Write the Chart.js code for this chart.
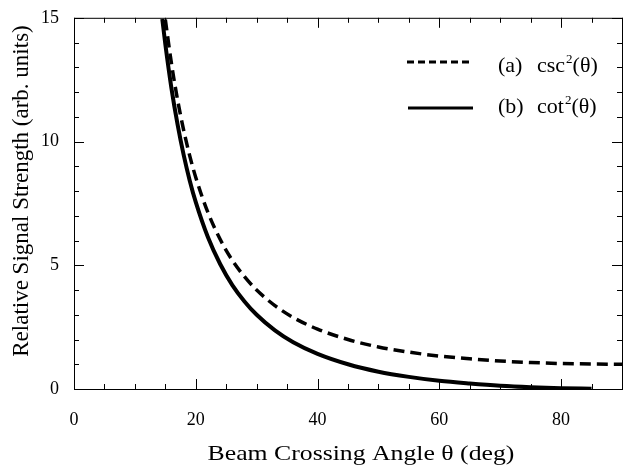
<!DOCTYPE html>
<html>
<head>
<meta charset="utf-8">
<script src="https://cdn.jsdelivr.net/npm/chart.js@4"></script>
<style>
  html, body { margin: 0; padding: 0; background: #fff; }
  #wrap { width: 628px; height: 467px; }
</style>
</head>
<body>
<div id="wrap"><canvas id="chart"></canvas></div>
<script>
// angles (deg) and values
var angleCsc = [15, 16, 17, 18, 19, 20, 22, 24, 26, 28, 30, 33, 36, 40, 45, 50, 55, 60, 65, 70, 75, 80, 85, 90];
var cscVals  = [14.93, 13.16, 11.70, 10.47, 9.43, 8.55, 7.13, 6.05, 5.20, 4.54, 4.00, 3.37, 2.89, 2.42, 2.00, 1.70, 1.49, 1.33, 1.22, 1.13, 1.07, 1.03, 1.01, 1.00];
var angleCot = [14.5, 15, 16, 17, 18, 19, 20, 22, 24, 26, 28, 30, 33, 36, 40, 45, 50, 55, 60, 65, 70, 75, 80, 85];
var cotVals  = [14.95, 13.93, 12.16, 10.70, 9.47, 8.43, 7.55, 6.13, 5.05, 4.20, 3.54, 3.00, 2.37, 1.89, 1.42, 1.00, 0.70, 0.49, 0.33, 0.22, 0.13, 0.07, 0.03, 0.01];
var xTicks = [0, 20, 40, 60, 80];
var yTicks = [0, 5, 10, 15];
var xTitle = 'Beam Crossing Angle \u03B8 (deg)';
var yTitle = 'Relative Signal Strength (arb. units)';

function pts(xs, ys) {
  return xs.map(function(x, i){ return {x: x, y: ys[i]}; });
}

var serif = '"Liberation Serif", "DejaVu Serif", serif';

// text like "csc" + superscript 2 + "(θ)"
function supText(ctx, x, y, base, sup, tail) {
  ctx.font = '22px ' + serif;
  ctx.fillText(base, x, y);
  x += ctx.measureText(base).width + 1;
  ctx.font = '13px ' + serif;
  ctx.fillText(sup, x, y - 9);
  x += ctx.measureText(sup).width;
  ctx.font = '22px ' + serif;
  ctx.fillText(tail, x, y);
}

// inward ticks on all four sides, frame, titles and legend inside plot
var framePlugin = {
  id: 'frame',
  afterDraw: function(chart) {
    var ctx = chart.ctx, a = chart.chartArea;
    var xs = chart.scales.x, ys = chart.scales.y;
    ctx.save();
    ctx.strokeStyle = '#000';
    ctx.lineWidth = 1;
    ctx.strokeRect(a.left + 0.5, a.top + 0.5, a.right - a.left, a.bottom - a.top);
    ctx.beginPath();
    for (var v = 0; v <= 90; v += 5) {
      var px = Math.round(xs.getPixelForValue(v)) + 0.5;
      var len = v % 20 === 0 ? 10 : 5;
      ctx.moveTo(px, a.bottom); ctx.lineTo(px, a.bottom - len);
      ctx.moveTo(px, a.top); ctx.lineTo(px, a.top + len);
    }
    for (var w = 0; w <= 15; w += 1) {
      var py = Math.round(ys.getPixelForValue(w)) + 0.5;
      var l2 = w % 5 === 0 ? 10 : 5;
      ctx.moveTo(a.left, py); ctx.lineTo(a.left + l2, py);
      ctx.moveTo(a.right, py); ctx.lineTo(a.right - l2, py);
    }
    ctx.stroke();

    ctx.fillStyle = '#000';
    ctx.textBaseline = 'alphabetic';

    // axis titles (the scan is a bit wide, so stretch the x title)
    ctx.save();
    ctx.font = '22px ' + serif;
    ctx.textAlign = 'center';
    ctx.translate(a.left + 287, 460);
    ctx.scale(1.17, 1);
    ctx.fillText(xTitle, 0, 0);
    ctx.restore();

    ctx.save();
    ctx.font = '23px ' + serif;
    ctx.textAlign = 'center';
    ctx.translate(28, 191);
    ctx.rotate(-Math.PI / 2);
    ctx.fillText(yTitle, 0, 0);
    ctx.restore();

    // legend
    var lx = a.left + 333, tx = a.left + 424;
    ctx.lineWidth = 3;
    ctx.setLineDash([7, 4]);
    ctx.beginPath(); ctx.moveTo(lx, 62); ctx.lineTo(lx + 65, 62); ctx.stroke();
    ctx.setLineDash([]);
    ctx.beginPath(); ctx.moveTo(lx + 1, 108); ctx.lineTo(lx + 66, 108); ctx.stroke();
    ctx.font = '22px ' + serif;
    ctx.fillText('(a)', tx, 72);
    ctx.fillText('(b)', tx, 113);
    supText(ctx, tx + 39, 72, 'csc', '2', '(\u03B8)');
    supText(ctx, tx + 39, 113, 'cot', '2', '(\u03B8)');
    ctx.restore();
  }
};

new Chart(document.getElementById('chart'), {
  type: 'line',
  data: {
    datasets: [{
      label: '(a) csc²(θ)',
      data: pts(angleCsc, cscVals),
      borderColor: '#000',
      borderWidth: 3.5,
      borderDash: [11, 6],
      pointRadius: 0,
      cubicInterpolationMode: 'monotone',
      fill: false
    }, {
      label: '(b) cot²(θ)',
      data: pts(angleCot, cotVals),
      borderColor: '#000',
      borderWidth: 4,
      pointRadius: 0,
      cubicInterpolationMode: 'monotone',
      fill: false
    }]
  },
  options: {
    responsive: true,
    maintainAspectRatio: false,
    animation: false,
    layout: { padding: { top: 12, right: 6, left: 0, bottom: 0 } },
    plugins: { legend: { display: false }, tooltip: { enabled: false } },
    scales: {
      x: {
        type: 'linear',
        min: 0, max: 90,
        afterBuildTicks: function(s){ s.ticks = xTicks.map(function(v){ return {value: v}; }); },
        afterFit: function(s){ s.height = 78; },
        grid: { display: false },
        border: { display: false },
        ticks: { color: '#000', font: { family: serif, size: 18 }, padding: 12, maxRotation: 0 }
      },
      y: {
        min: 0, max: 15,
        afterBuildTicks: function(s){ s.ticks = yTicks.map(function(v){ return {value: v}; }); },
        afterFit: function(s){ s.width = 74; },
        grid: { display: false },
        border: { display: false },
        ticks: { color: '#000', font: { family: serif, size: 18 }, padding: 7 }
      }
    }
  },
  plugins: [framePlugin]
});
</script>
</body>
</html>
